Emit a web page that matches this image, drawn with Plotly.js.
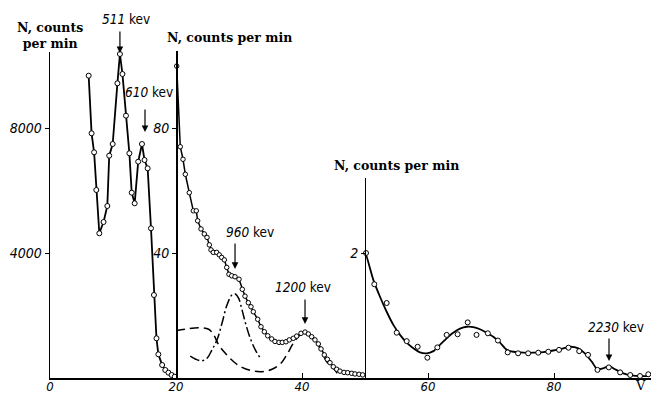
<!DOCTYPE html>
<html>
<head>
<meta charset="utf-8">
<script src="https://cdn.plot.ly/plotly-3.0.1.min.js"></script>
<style>html,body{margin:0;padding:0;background:#fff;}#chart{width:651px;height:394px;}</style>
</head>
<body>
<div id="chart"></div>
<script>
// ---- Data (V = channel / voltage, N = counts per min) ----
var leftV = [6.14, 6.6, 7.0, 7.35, 7.83, 8.5, 9.1, 9.4, 9.95, 10.7, 11.1, 11.5, 12.06, 12.6, 12.97, 13.44, 14.0, 14.6, 15.0, 15.5, 16.03, 16.5, 16.9, 17.2, 17.8, 18.3, 18.8, 19.3, 19.8];
var leftN = [9674, 7830, 7222, 6016, 4630, 4992, 5504, 7115, 7488, 9430, 10368, 9728, 8394, 7190, 5930, 5590, 6923, 7488, 6976, 6710, 4790, 2656, 1270, 758, 416, 256, 170, 96, 42];

var midV = [20.11, 20.68, 21.11, 21.48, 22.11, 22.75, 23.22, 23.44, 23.97, 24.49, 24.92, 25.29, 25.56, 25.92, 26.46, 26.87, 27.25, 27.67, 28.05, 28.41, 28.84, 29.37, 30.0, 30.52, 30.95, 31.48, 31.9, 32.27, 32.97, 33.49, 34.02, 34.56, 35.19, 35.71, 36.35, 36.87, 37.46, 37.98, 38.62, 39.16, 39.84, 40.48, 41.0, 41.54, 42.06, 42.59, 43.02, 43.54, 44.02, 44.44, 44.97, 45.51, 46.03, 46.67, 47.25, 47.89, 48.41, 49.05, 49.63];
var midN = [99.8, 74.0, 70.0, 65.2, 59.3, 53.5, 53.5, 50.3, 47.7, 46.1, 45.0, 42.6, 41.0, 40.2, 40.2, 39.4, 38.6, 37.8, 35.4, 33.2, 32.7, 32.4, 31.6, 28.4, 26.2, 24.1, 22.8, 21.2, 18.8, 16.4, 14.8, 13.5, 12.5, 11.7, 11.4, 11.4, 11.6, 12.2, 12.7, 13.4, 14.3, 14.7, 14.1, 13.2, 12.2, 10.9, 9.3, 7.4, 6.0, 4.9, 3.6, 2.8, 2.2, 1.8, 1.7, 1.5, 1.3, 1.2, 1.0];

var dashV = [20.0, 21.48, 23.6, 25.19, 25.98, 26.78, 27.83, 29.16, 30.48, 32.06, 33.65, 35.24, 36.56, 37.57, 38.62, 39.68, 40.32, 41.27, 42.22, 43.02, 43.92, 44.97, 46.03];
var dashN = [15.1, 15.6, 16.1, 15.6, 13.8, 10.6, 7.9, 5.2, 3.4, 2.3, 2.0, 2.8, 4.5, 7.4, 11.1, 13.8, 14.5, 13.4, 11.5, 9.0, 5.2, 3.1, 0.4];

var dashDotV = [22.27, 23.06, 24.02, 24.92, 25.71, 26.51, 27.3, 28.1, 28.89, 29.41, 29.95, 30.48, 31.11, 31.79, 32.59, 33.38];
var dashDotN = [7.0, 6.1, 5.5, 6.3, 9.0, 12.2, 17.5, 23.4, 26.6, 26.9, 25.5, 21.8, 17.0, 12.7, 9.0, 6.3];

var rightV = [50.16, 51.48, 53.44, 55.03, 56.62, 58.36, 59.9, 61.48, 62.96, 64.7, 66.3, 67.7, 69.5, 71.1, 72.65, 74.3, 75.9, 77.5, 79.1, 80.8, 82.3, 84.0, 85.4, 86.9, 88.7, 90.5, 92.1, 93.65, 94.97];
var rightN = [2.0, 1.50, 1.20, 0.725, 0.59, 0.50, 0.325, 0.49, 0.69, 0.70, 0.89, 0.69, 0.715, 0.60, 0.41, 0.395, 0.395, 0.405, 0.42, 0.45, 0.485, 0.43, 0.37, 0.13, 0.17, 0.09, 0.048, 0.032, 0.06];

var fitV = [50.0, 50.27, 51.32, 52.38, 53.44, 54.5, 55.56, 56.62, 57.67, 58.73, 59.79, 60.85, 61.9, 62.96, 64.0, 65.08, 66.14, 67.19, 68.25, 69.3, 70.37, 71.43, 72.49, 73.54, 75.13, 76.7, 78.3, 79.9, 81.5, 82.54, 83.86, 84.9, 86.0, 86.87, 87.83, 88.78, 89.68, 91.0, 92.6, 95.2];
var fitN = [2.0, 1.94, 1.57, 1.30, 1.06, 0.85, 0.69, 0.565, 0.475, 0.41, 0.395, 0.43, 0.53, 0.635, 0.725, 0.79, 0.82, 0.815, 0.78, 0.725, 0.66, 0.565, 0.45, 0.42, 0.405, 0.405, 0.415, 0.44, 0.475, 0.50, 0.475, 0.395, 0.26, 0.14, 0.155, 0.19, 0.14, 0.075, 0.037, 0.03];

var xTickVals = [0, 20, 40, 60, 80];
var xTickText = ['0', '20', '40', '60', '80'];
var leftTicks = [4000, 8000];
var midTicks = [40, 80];
var rightTicks = [2];

var peakLabels = ['511', '610', '960', '1200', '2230'];
var peakArrowV = [11.1, 15.08, 29.37, 40.48, 88.73];
var peakArrowN = [10368, 7840, 34.6, 17.0, 0.256];
var peakAxis = ['y', 'y', 'y2', 'y2', 'y3'];

// ---- Layout geometry ----
var W = 651, H = 394, ML = 50, MR = 0, MT = 40, MB = 16;
var plotW = W - ML - MR, plotH = H - MT - MB;
var pxPerV = 6.3;
var xMax = plotW / pxPerV;
var pxPerUnitL = 125 / 4000, pxPerUnitM = 125 / 40, pxPerUnitR = 125 / 2;
var topL = 326, topM = 327, topR = 200; // axis line heights in px
function px2paperY(py) { return (H - MB - py) / plotH; }

var numFont = 'Liberation Sans Narrow, DejaVu Sans Condensed, Liberation Sans, sans-serif';
var titleFont = 'DejaVu Serif, Liberation Serif, serif';

var mk = {symbol: 'circle', size: 5, color: '#fff', line: {color: '#000', width: 1}};

var traces = [
  {x: leftV, y: leftN, xaxis: 'x', yaxis: 'y', mode: 'lines+markers', cliponaxis: false,
   line: {color: '#000', width: 1.8}, marker: mk},
  {x: dashV, y: dashN, xaxis: 'x', yaxis: 'y2', mode: 'lines', cliponaxis: false,
   line: {color: '#000', width: 1.5, dash: '9px,5px', shape: 'spline'}},
  {x: dashDotV, y: dashDotN, xaxis: 'x', yaxis: 'y2', mode: 'lines', cliponaxis: false,
   line: {color: '#000', width: 1.5, dash: '10px,3px,2px,3px', shape: 'spline'}},
  {x: midV, y: midN, xaxis: 'x', yaxis: 'y2', mode: 'lines+markers', cliponaxis: false,
   line: {color: '#000', width: 1.5}, marker: {symbol: 'circle', size: 4.5, color: '#fff', line: {color: '#000', width: 1}}},
  {x: fitV, y: fitN, xaxis: 'x', yaxis: 'y3', mode: 'lines', cliponaxis: false,
   line: {color: '#000', width: 1.8, shape: 'spline', smoothing: 0.6}},
  {x: rightV, y: rightN, xaxis: 'x', yaxis: 'y3', mode: 'markers', cliponaxis: false, marker: mk}
];

var yCommon = {showgrid: false, zeroline: false, showline: true, linecolor: '#000', linewidth: 1.5,
  ticks: 'outside', ticklen: 4, tickcolor: '#000', tickwidth: 1,
  tickfont: {family: numFont, size: 14, style: 'italic', color: '#000'}, fixedrange: true};

var layout = {
  width: W, height: H, margin: {l: ML, r: MR, t: MT, b: MB},
  paper_bgcolor: '#fff', plot_bgcolor: 'rgba(0,0,0,0)', showlegend: false,
  xaxis: {range: [0, xMax], showgrid: false, zeroline: false, showline: true, linecolor: '#000', linewidth: 1.5,
    ticks: 'inside', ticklen: 5, tickcolor: '#000', tickvals: xTickVals, ticktext: xTickText, ticklabelstandoff: -4,
    tickfont: {family: numFont, size: 13, style: 'italic', color: '#000'}, anchor: 'y'},
  yaxis: Object.assign({}, yCommon, {domain: [0, topL / plotH], range: [0, topL / pxPerUnitL], tickvals: leftTicks, anchor: 'x'}),
  yaxis2: Object.assign({}, yCommon, {domain: [0, topM / plotH], range: [0, topM / pxPerUnitM], tickvals: midTicks,
    anchor: 'free', position: 20 * pxPerV / plotW, side: 'left'}),
  yaxis3: Object.assign({}, yCommon, {domain: [0, topR / plotH], range: [0, topR / pxPerUnitR], tickvals: rightTicks,
    anchor: 'free', position: 50 * pxPerV / plotW, side: 'left', linewidth: 1.3}),
  annotations: [],
  font: {color: '#000'}
};

// axis titles (N, counts per min)
var tf = {family: titleFont, size: 12.5, weight: 'bold', color: '#000'};
layout.annotations.push({xref: 'x', yref: 'paper', x: 0, y: px2paperY(35.5), text: 'N, counts<br>per min', showarrow: false, font: tf, xanchor: 'center', yanchor: 'middle'});
layout.annotations.push({xref: 'x', yref: 'paper', x: (165 - ML) / pxPerV, y: px2paperY(38), text: 'N, counts per min', showarrow: false, font: tf, xanchor: 'left', yanchor: 'middle'});
layout.annotations.push({xref: 'x', yref: 'paper', x: (332 - ML) / pxPerV, y: px2paperY(165.5), text: 'N, counts per min', showarrow: false, font: tf, xanchor: 'left', yanchor: 'middle'});
layout.annotations.push({xref: 'x', yref: 'paper', x: (640 - ML) / pxPerV, y: px2paperY(385), text: 'V', showarrow: false,
  font: {family: 'DejaVu Serif, serif', size: 13, color: '#000'}, xanchor: 'center', yanchor: 'middle'});

// peak labels and arrows
var labelPx = [[126, 19], [149, 92], [250, 232], [303, 287], [615.5, 326.5]];
var arrowLen = [24, 25, 28, 27, 25];
for (var i = 0; i < peakLabels.length; i++) {
  layout.annotations.push({xref: 'x', yref: 'paper', x: (labelPx[i][0] - ML) / pxPerV, y: px2paperY(labelPx[i][1]),
    text: '<i>' + peakLabels[i] + '</i><span style="font-style:normal"> kev</span>', showarrow: false, xanchor: 'center', yanchor: 'middle',
    font: {family: numFont, size: 13.5, color: '#000'}});
  layout.annotations.push({xref: 'x', yref: peakAxis[i], x: peakArrowV[i], y: peakArrowN[i], text: '',
    showarrow: true, arrowhead: 2, arrowsize: 1.1, arrowwidth: 1.2, arrowcolor: '#000', ax: 0, ay: -arrowLen[i], standoff: 1});
}

Plotly.newPlot('chart', traces, layout, {staticPlot: true, displayModeBar: false});
</script>
</body>
</html>
